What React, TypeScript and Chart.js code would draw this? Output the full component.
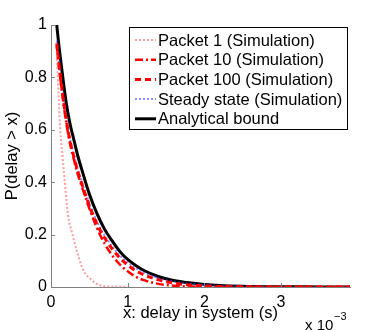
import React, { useEffect, useRef } from "react";
import { Chart, registerables } from "chart.js";
Chart.register(...registerables);

// x values in milliseconds (axis shows ×10^-3 s)
const delayMs = [0.075, 0.1, 0.15, 0.2, 0.25, 0.3, 0.35, 0.4, 0.5, 0.6, 0.7, 0.8, 0.9, 1.0, 1.1, 1.2, 1.4, 1.6, 1.8, 2.0, 2.2, 2.5, 3.0, 3.5, 3.9];
const packet10 = [0.92, 0.85, 0.73, 0.625, 0.545, 0.485, 0.43, 0.385, 0.3, 0.225, 0.165, 0.12, 0.085, 0.06, 0.04, 0.027, 0.012, 0.005, 0.002, 0.0008, 0, 0, 0, 0, 0];
const packet100 = [0.93, 0.86, 0.74, 0.635, 0.555, 0.495, 0.44, 0.395, 0.31, 0.24, 0.187, 0.145, 0.11, 0.084, 0.063, 0.048, 0.027, 0.015, 0.008, 0.004, 0.002, 0.0008, 0, 0, 0];
const steadyState = [0.94, 0.87, 0.75, 0.645, 0.565, 0.505, 0.45, 0.405, 0.32, 0.25, 0.197, 0.155, 0.12, 0.093, 0.073, 0.057, 0.034, 0.021, 0.013, 0.008, 0.005, 0.002, 0.0006, 0.0002, 0];
const analytical = [1.0, 0.93, 0.81, 0.7, 0.62, 0.56, 0.5, 0.45, 0.355, 0.28, 0.22, 0.175, 0.135, 0.105, 0.083, 0.065, 0.04, 0.025, 0.016, 0.01, 0.006, 0.003, 0.001, 0.0004, 0.0002];

// Packet 1 has its own sample points
const packet1Ms = [0.075, 0.1, 0.12, 0.15, 0.18, 0.22, 0.28, 0.34, 0.42, 0.53, 0.62, 0.75, 0.9, 1.0];
const packet1 = [0.9, 0.72, 0.6, 0.5, 0.4, 0.28, 0.2, 0.135, 0.065, 0.027, 0.008, 0.002, 0.001, 0];

const seriesLabels = ["Packet 1 (Simulation)", "Packet 10 (Simulation)", "Packet 100 (Simulation)", "Steady state (Simulation)", "Analytical bound"];
const xTickValues = [0, 1, 2, 3];
const yTickValues = [0, 0.2, 0.4, 0.6, 0.8, 1];
const xTitle = "x: delay in system (s)";
const yTitle = "P(delay > x)";

const FONT = "'Liberation Sans', Arial, Helvetica, sans-serif";

const overlayPlugin = {
  id: "overlay",
  afterDraw(chart: any) {
    const ctx = chart.ctx;
    const xs = chart.scales.x;
    const ys = chart.scales.y;
    const area = chart.chartArea;
    ctx.save();
    // inward tick marks
    ctx.strokeStyle = "#808080";
    ctx.lineWidth = 1;
    ctx.beginPath();
    yTickValues.forEach((v) => {
      const py = Math.round(ys.getPixelForValue(v)) + 0.5;
      ctx.moveTo(area.left, py);
      ctx.lineTo(area.left + 4, py);
    });
    xs.ticks.forEach((t: any) => {
      const px = Math.round(xs.getPixelForValue(t.value)) + 0.5;
      ctx.moveTo(px, area.bottom);
      ctx.lineTo(px, area.bottom - 4);
    });
    ctx.stroke();

    // x tick labels and x title
    ctx.fillStyle = "#000";
    ctx.textBaseline = "alphabetic";
    ctx.textAlign = "center";
    ctx.font = `16px ${FONT}`;
    xs.ticks.forEach((t: any) => {
      ctx.fillText(String(t.value), xs.getPixelForValue(t.value), 307);
    });
    ctx.font = `16.5px ${FONT}`;
    ctx.fillText(xTitle, (area.left + area.right) / 2, 318);

    // exponent label
    ctx.textAlign = "left";
    ctx.font = `15px ${FONT}`;
    ctx.fillText("x 10", 305, 330);
    ctx.font = `11px ${FONT}`;
    ctx.fillText("\u22123", 334, 320);

    // legend
    const bx = 129.5, by = 27.5, bw = 218, bh = 102;
    ctx.fillStyle = "#fff";
    ctx.fillRect(bx, by, bw, bh);
    ctx.strokeStyle = "#000";
    ctx.lineWidth = 1;
    ctx.strokeRect(bx, by, bw, bh);
    const rowH = 19.7;
    chart.data.datasets.forEach((ds: any, i: number) => {
      const cy = 40 + i * rowH;
      ctx.save();
      ctx.strokeStyle = ds.borderColor;
      ctx.lineWidth = ds.borderWidth;
      ctx.setLineDash(ds.borderDash || []);
      ctx.beginPath();
      ctx.moveTo(135, cy);
      ctx.lineTo(156, cy);
      ctx.stroke();
      ctx.restore();
      ctx.fillStyle = "#000";
      ctx.font = `16.5px ${FONT}`;
      ctx.textBaseline = "middle";
      ctx.fillText(ds.label, 158, cy + 1);
    });
    ctx.restore();
  },
};

export default function App() {
  const canvasRef = useRef<HTMLCanvasElement | null>(null);
  useEffect(() => {
    const toPts = (xsArr: number[], arr: number[]) => xsArr.map((x, i) => ({ x, y: arr[i] }));
    const styles = [
      { color: "rgba(255,90,90,0.6)", width: 2, dash: [2, 2] },
      { color: "#ff0000", width: 2.5, dash: [8, 3, 2, 3] },
      { color: "#ff0000", width: 3, dash: [6, 4] },
      { color: "rgba(60,70,255,0.6)", width: 2, dash: [2, 2] },
      { color: "#000000", width: 3, dash: [] as number[] },
    ];
    const series = [
      toPts(packet1Ms, packet1),
      toPts(delayMs, packet10),
      toPts(delayMs, packet100),
      toPts(delayMs, steadyState),
      toPts(delayMs, analytical),
    ];
    const chart = new Chart(canvasRef.current as HTMLCanvasElement, {
      type: "line",
      data: {
        datasets: series.map((s, i) => ({
          label: seriesLabels[i],
          data: s,
          borderColor: styles[i].color,
          borderWidth: styles[i].width,
          borderDash: styles[i].dash,
          pointRadius: 0,
          fill: false,
          cubicInterpolationMode: "monotone" as const,
        })),
      },
      options: {
        animation: false,
        responsive: false,
        devicePixelRatio: 1,
        layout: { padding: { top: 25, right: 36, left: 0, bottom: 0 } },
        plugins: { legend: { display: false }, tooltip: { enabled: false } },
        scales: {
          x: {
            type: "linear",
            min: 0,
            max: 3.9,
            afterBuildTicks: (scale: any) => {
              scale.ticks = xTickValues.map((v) => ({ value: v }));
            },
            afterFit: (scale: any) => {
              scale.height = 43;
            },
            ticks: { display: false },
            grid: { drawOnChartArea: false, drawTicks: false },
            border: { color: "#808080", width: 1 },
            title: { display: false },
          },
          y: {
            type: "linear",
            min: 0,
            max: 1,
            afterBuildTicks: (scale: any) => {
              scale.ticks = yTickValues.map((v) => ({ value: v }));
            },
            afterFit: (scale: any) => {
              scale.width = 51;
            },
            ticks: {
              color: "#000",
              font: { family: FONT, size: 16 },
              padding: 4,
              callback: (v: any) => String(Number(Number(v).toFixed(1))),
            },
            grid: { drawOnChartArea: false, drawTicks: false },
            border: { color: "#808080", width: 1 },
            title: {
              display: true,
              text: yTitle,
              color: "#000",
              font: { family: FONT, size: 16.5 },
              padding: { top: 3, bottom: 0 },
            },
          },
        },
      },
      plugins: [overlayPlugin],
    });
    return () => chart.destroy();
  }, []);
  return (
    <div style={{ position: "fixed", left: 0, top: 0, width: 386, height: 330, background: "#fff" }}>
      <canvas ref={canvasRef} width={386} height={330} />
    </div>
  );
}
